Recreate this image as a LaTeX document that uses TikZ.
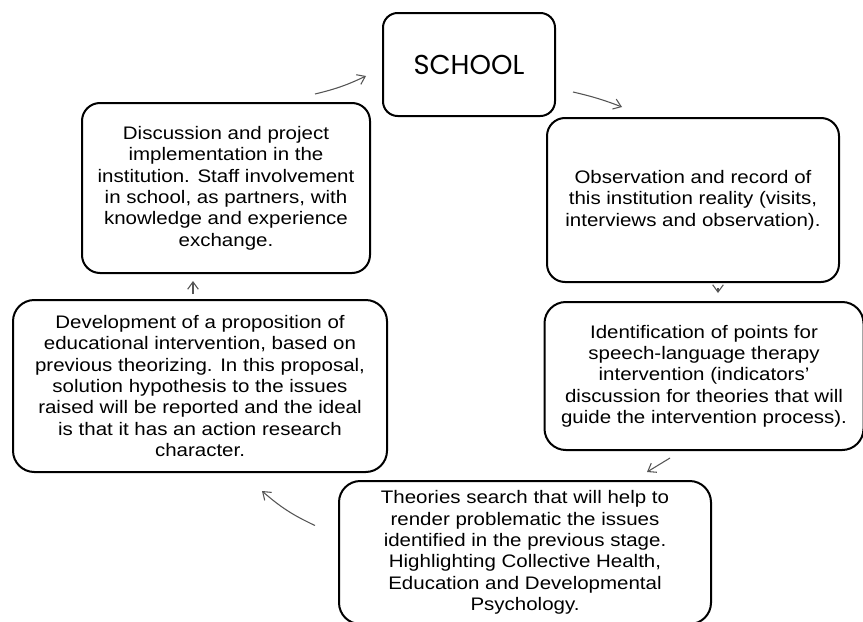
\documentclass[tikz,border=0pt]{standalone}
\usepackage{fontspec}
\setmainfont{Liberation Sans}[FakeStretch=1.13]
\newfontfamily\titlefont{Poppins}
\usepackage{tikz}
\usetikzlibrary{arrows.meta}
\definecolor{arrowgray}{RGB}{85, 85, 85}

\begin{document}
\begin{tikzpicture}[x=0.75pt, y=-0.75pt,
  stage/.style={draw, line width=1.5pt, rounded corners=13.5pt, align=center, inner sep=0pt, font=\fontsize{13.6}{16}\selectfont},
  flow/.style={draw=arrowgray, line width=0.8pt, -{Straight Barb[length=5.5pt, width=8pt]}}]
  \useasboundingbox (0,0) rectangle (863,621);

  % School
  \node[stage, minimum width=129pt, minimum height=77.25pt, rounded corners=11pt, font=\titlefont\fontsize{20.5}{22}\selectfont] (school) at (469,64.5) {SCHOOL};

  % Observation
  \node[stage, minimum width=219pt, minimum height=123pt] (observe) at (693,200) {
    Observation and record of\\
    this institution reality (visits,\\
    interviews and observation).
  };

  % Identification
  \node[stage, minimum width=239.25pt, minimum height=111pt, rounded corners=16pt] (identify) at (704,376) {
    Identification of points for\\
    speech-language therapy\\
    intervention (indicators’\\
    discussion for theories that will\\
    guide the intervention process).
  };

  % Theories
  \node[stage, minimum width=279pt, minimum height=107.25pt, rounded corners=16pt] (theory) at (525,552.5) {
    Theories search that will help to\\
    render problematic the issues\\
    identified in the previous stage.\\
    Highlighting Collective Health,\\
    Education and Developmental\\
    Psychology.
  };

  % Proposition
  \node[stage, minimum width=280.5pt, minimum height=129pt, rounded corners=16pt] (develop) at (200,386) {
    Development of a proposition of\\
    educational intervention, based on\\
    previous theorizing. In this proposal,\\
    solution hypothesis to the issues\\
    raised will be reported and the ideal\\
    is that it has an action research\\
    character.
  };

  % Implementation
  \node[stage, minimum width=216pt, minimum height=127.5pt] (discuss) at (226,188) {
    Discussion and project\\
    implementation in the\\
    institution. Staff involvement\\
    in school, as partners, with\\
    knowledge and experience\\
    exchange.
  };

  % Cycle arrows
  \draw[flow] ([shift={(89,-8)}]discuss.north) to[bend right=6] ([shift={(-16,11.5)}]school.west);
  \draw[flow] ([shift={(17,27.5)}]school.east) to[bend left=4] ([shift={(-71,-10)}]observe.north);
  \draw[flow] ([shift={(25,5)}]observe.south) -- ([shift={(14,-8)}]identify.north);
  \draw[flow] ([shift={(-34,7)}]identify.south) -- ([shift={(122,-8)}]theory.north);
  \draw[flow] ([shift={(-23,-27)}]theory.west) to[bend left=8] ([shift={(62,18)}]develop.south);
  \draw[flow] ([shift={(-7,-5)}]develop.north) -- ([shift={(-33,7)}]discuss.south);
\end{tikzpicture}
\end{document}
